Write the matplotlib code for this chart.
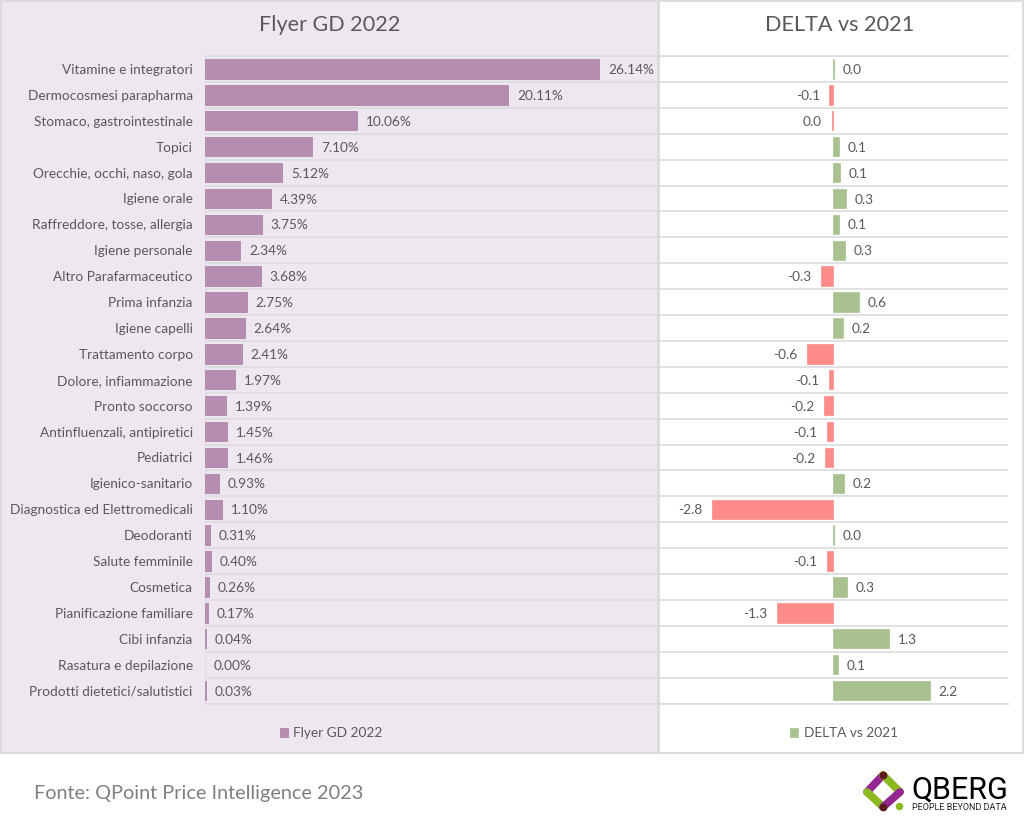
from matplotlib import pyplot as plt
from matplotlib.patches import Rectangle
import numpy as np

plt.rcParams['font.family'] = ['Lato', 'DejaVu Sans']

categories = ['Vitamine e integratori', 'Dermocosmesi parapharma', 'Stomaco, gastrointestinale',
              'Topici', 'Orecchie, occhi, naso, gola', 'Igiene orale',
              'Raffreddore, tosse, allergia', 'Igiene personale', 'Altro Parafarmaceutico',
              'Prima infanzia', 'Igiene capelli', 'Trattamento corpo', 'Dolore, infiammazione',
              'Pronto soccorso', 'Antinfluenzali, antipiretici', 'Pediatrici', 'Igienico-sanitario',
              'Diagnostica ed Elettromedicali', 'Deodoranti', 'Salute femminile', 'Cosmetica',
              'Pianificazione familiare', 'Cibi infanzia', 'Rasatura e depilazione',
              'Prodotti dietetici/salutistici']
flyer_2022 = [26.14, 20.11, 10.06, 7.10, 5.12, 4.39, 3.75, 2.34, 3.68, 2.75, 2.64, 2.41, 1.97,
              1.39, 1.45, 1.46, 0.93, 1.10, 0.31, 0.40, 0.26, 0.17, 0.04, 0.00, 0.03]
delta_2021 = [0.02, -0.08, -0.03, 0.14, 0.16, 0.29, 0.14, 0.27, -0.28, 0.58, 0.23, -0.60, -0.09,
              -0.20, -0.13, -0.18, 0.24, -2.75, 0.02, -0.13, 0.32, -1.27, 1.28, 0.12, 2.20]
delta_labels = ['0.0', '-0.1', '0.0', '0.1', '0.1', '0.3', '0.1', '0.3', '-0.3', '0.6', '0.2', '-0.6',
                '-0.1', '-0.2', '-0.1', '-0.2', '0.2', '-2.8', '0.0', '-0.1', '0.3', '-1.3', '1.3',
                '0.1', '2.2']

W, H = 1024, 817
PURPLE = '#b48db0'
GREEN = '#a9c18f'
RED = '#ff8b8b'
GRID = '#dcdcdc'
TEXT = '#595959'
LABEL_SIZE = 9.8


def px_axes(fig, left, top, right, bottom, **kw):
    # axes placed by pixel box of the reference
    return fig.add_axes([left / W, 1 - bottom / H, (right - left) / W, (bottom - top) / H], **kw)


def style_axes(ax, y):
    ax.set_facecolor('none')
    ax.set_ylim(len(y) - 0.5, -0.5)
    ax.set_yticks(np.append(y, len(y)) - 0.5, minor=True)
    ax.grid(which='minor', axis='y', color=GRID, linewidth=1.2)
    ax.set_axisbelow(True)
    ax.set_xticks([])
    ax.tick_params(which='both', length=0)
    for name, s in ax.spines.items():
        s.set_visible(name in ('top', 'bottom'))
        s.set_color(GRID)
        s.set_linewidth(1.2)


def draw_background(fig):
    bg = fig.add_axes([0, 0, 1, 1], zorder=-1)
    bg.set_xlim(0, W)
    bg.set_ylim(H, 0)
    bg.axis('off')
    bg.add_patch(Rectangle((1, 1), 657, 752, facecolor='#efe7f0', edgecolor='#d9d9d9', linewidth=1.3))
    bg.add_patch(Rectangle((658.5, 1), 364, 752, facecolor='white', edgecolor='#d9d9d9', linewidth=1.3))
    return bg


def draw_logo(ax):
    purple, green, dark = '#93278f', '#8cb820', '#5c1a1e'
    top, left, bottom, right = (883, 775), (867, 792), (883, 807), (900, 792)
    for a, b, c in [(top, left, purple), (top, right, green), (left, bottom, green), (bottom, right, purple)]:
        ax.plot([a[0], b[0]], [a[1], b[1]], color=c, linewidth=5.6, solid_capstyle='round')
    for p in (top, bottom):
        ax.plot(*p, 'o', color=dark, markersize=5.6, markeredgewidth=0)
    ax.plot(899, 806, 'o', color=green, markersize=5.4, markeredgewidth=0)
    ax.text(911, 790, 'QBERG', fontsize=22, color='black', va='center', ha='left', family='Roboto')
    ax.text(912, 807, 'PEOPLE BEYOND DATA', fontsize=6.5, color='#222222', va='center', ha='left', family='Roboto')


def main():
    fig = plt.figure(figsize=(W / 100, H / 100), dpi=100, facecolor='white')
    bg = draw_background(fig)
    y = np.arange(len(categories))

    # left panel
    ax1 = px_axes(fig, 205.2, 56, 658, 703.5)
    edges = [PURPLE if v > 0 else 'none' for v in flyer_2022]
    bars1 = ax1.barh(y, flyer_2022, height=0.75, color=PURPLE, edgecolor=edges, linewidth=0.7,
                     label='Flyer GD 2022', zorder=3)
    style_axes(ax1, y)
    ax1.set_xlim(0, 452.8 / 15.07)
    ax1.axvline(0, color=GRID, linewidth=1.2, zorder=0.5)
    ax1.set_yticks(y, categories, fontsize=LABEL_SIZE, color=TEXT)
    ax1.tick_params(axis='y', which='major', pad=9)
    for v, i in zip(flyer_2022, y):
        ax1.annotate(f'{v:.2f}%', (v, i), xytext=(6.3, -0.8), textcoords='offset points',
                     va='center', ha='left', fontsize=LABEL_SIZE, color=TEXT)

    # right panel
    ax2 = px_axes(fig, 658.5, 56, 1008, 703.5)
    colors = [GREEN if v > 0 else RED for v in delta_2021]
    bars2 = ax2.barh(y, delta_2021, height=0.75, color=colors, edgecolor=colors, linewidth=0.5,
                     label='DELTA vs 2021', zorder=3)
    style_axes(ax2, y)
    ax2.set_xlim((658.5 - 833) / 44, (1008 - 833) / 44)
    ax2.set_yticks([])
    for v, lab, i in zip(delta_2021, delta_labels, y):
        off, ha = (6.3, 'left') if v > 0 else (-7, 'right')
        ax2.annotate(lab, (v, i), xytext=(off, -0.8), textcoords='offset points',
                     va='center', ha=ha, fontsize=LABEL_SIZE, color=TEXT)

    # titles, legends, footer
    bg.text(330, 25, 'Flyer GD 2022', fontsize=15.6, color=TEXT, ha='center', va='center')
    bg.text(840, 25, 'DELTA vs 2021', fontsize=15.6, color=TEXT, ha='center', va='center')
    for ax, handle, cx in [(ax1, bars1, 331), (ax2, bars2, 844)]:
        ax.legend(handles=[handle], loc='center', bbox_to_anchor=(cx / W, 1 - 733 / H),
                  bbox_transform=fig.transFigure, frameon=False, fontsize=LABEL_SIZE, labelcolor=TEXT,
                  handlelength=0.6, handleheight=0.6, handletextpad=0.4)
    bg.text(34, 793.5, 'Fonte: QPoint Price Intelligence 2023', fontsize=14.3, color='#7f7f7f', ha='left', va='center')
    draw_logo(bg)

    fig.savefig('out.png', dpi=100)


if __name__ == "__main__":
    main()
